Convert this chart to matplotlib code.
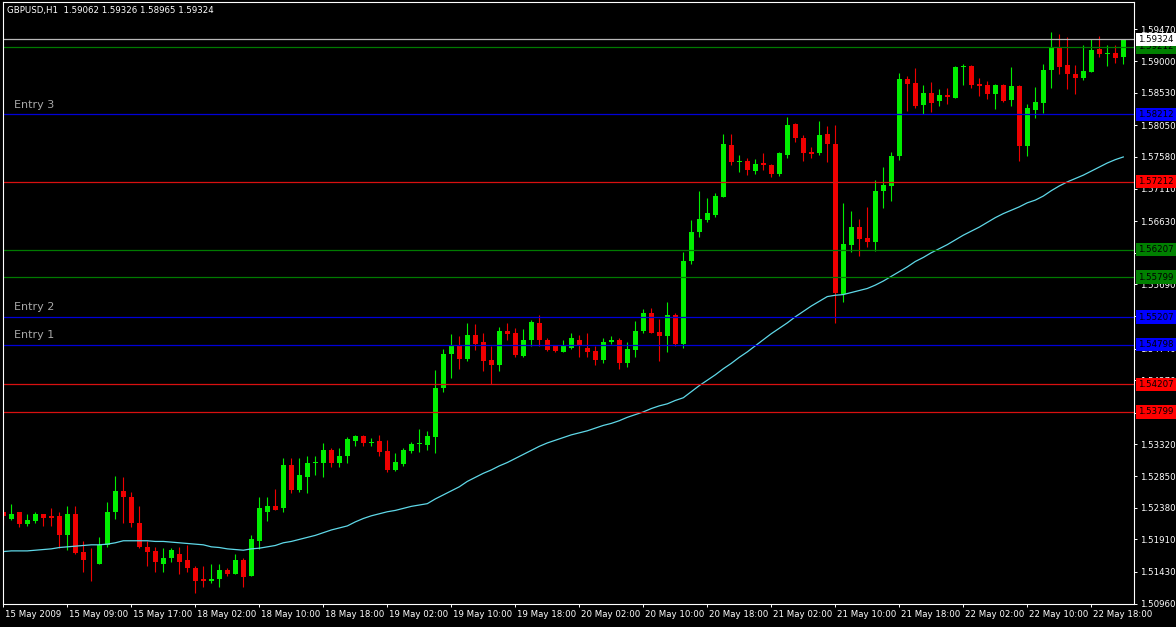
import numpy as np
import matplotlib.pyplot as plt
from matplotlib import transforms

# GBPUSD H1 candles, 15-22 May 2009
opens = [
    1.5231, 1.5222, 1.5231, 1.5214, 1.5219, 1.5228, 1.5225, 1.5225, 1.5197, 1.5229,
    1.5173, 1.5161, 1.5155, 1.5182, 1.5231, 1.5263, 1.5254, 1.5216, 1.5180, 1.5174,
    1.5155, 1.5163, 1.5170, 1.5160, 1.5149, 1.5132, 1.5129, 1.5132, 1.5146, 1.5140,
    1.5161, 1.5137, 1.5189, 1.5232, 1.5240, 1.5238, 1.5302, 1.5265, 1.5284, 1.5305,
    1.5305, 1.5324, 1.5305, 1.5314, 1.5337, 1.5345, 1.5334, 1.5337, 1.5322, 1.5294,
    1.5303, 1.5322, 1.5333, 1.5331, 1.5343, 1.5416, 1.5466, 1.5478, 1.5459, 1.5494,
    1.5483, 1.5457, 1.5449, 1.5500, 1.5497, 1.5463, 1.5486, 1.5512, 1.5487, 1.5477,
    1.5469, 1.5475, 1.5487, 1.5475, 1.5471, 1.5457, 1.5483, 1.5487, 1.5453, 1.5472,
    1.5500, 1.5526, 1.5499, 1.5493, 1.5524, 1.5480, 1.5604, 1.5646, 1.5665, 1.5672,
    1.5699, 1.5776, 1.5751, 1.5752, 1.5737, 1.5749, 1.5746, 1.5733, 1.5761, 1.5807,
    1.5786, 1.5766, 1.5764, 1.5792, 1.5777, 1.5555, 1.5628, 1.5654, 1.5638, 1.5632,
    1.5708, 1.5715, 1.5760, 1.5874, 1.5868, 1.5835, 1.5853, 1.5841, 1.5850, 1.5846,
    1.5891, 1.5893, 1.5866, 1.5865, 1.5851, 1.5865, 1.5843, 1.5863, 1.5774, 1.5828,
    1.5838, 1.5887, 1.5920, 1.5894, 1.5881, 1.5875, 1.5884, 1.5918, 1.5911, 1.5912,
    1.59062]
highs = [
    1.5234, 1.5243, 1.5232, 1.5228, 1.5231, 1.5229, 1.5237, 1.5232, 1.5240, 1.5241,
    1.5188, 1.5179, 1.5195, 1.5246, 1.5285, 1.5283, 1.5262, 1.5241, 1.5188, 1.5180,
    1.5179, 1.5179, 1.5180, 1.5183, 1.5151, 1.5152, 1.5155, 1.5155, 1.5149, 1.5169,
    1.5163, 1.5197, 1.5254, 1.5254, 1.5266, 1.5311, 1.5311, 1.5311, 1.5315, 1.5314,
    1.5334, 1.5327, 1.5327, 1.5343, 1.5346, 1.5346, 1.5342, 1.5346, 1.5339, 1.5319,
    1.5327, 1.5336, 1.5354, 1.5352, 1.5442, 1.5474, 1.5496, 1.5492, 1.5512, 1.5511,
    1.5497, 1.5477, 1.5506, 1.5512, 1.5505, 1.5503, 1.5517, 1.5524, 1.5490, 1.5477,
    1.5486, 1.5497, 1.5494, 1.5497, 1.5477, 1.5490, 1.5493, 1.5489, 1.5484, 1.5515,
    1.5533, 1.5534, 1.5518, 1.5543, 1.5527, 1.5617, 1.5665, 1.5708, 1.5697, 1.5705,
    1.5792, 1.5792, 1.5761, 1.5756, 1.5755, 1.5764, 1.5748, 1.5766, 1.5817, 1.5808,
    1.5791, 1.5773, 1.5811, 1.5804, 1.5806, 1.5690, 1.5678, 1.5666, 1.5684, 1.5724,
    1.5743, 1.5766, 1.5883, 1.5878, 1.5890, 1.5865, 1.5869, 1.5859, 1.5860, 1.5893,
    1.5896, 1.5894, 1.5875, 1.5871, 1.5866, 1.5866, 1.5891, 1.5865, 1.5837, 1.5862,
    1.5896, 1.5943, 1.5940, 1.5936, 1.5894, 1.5924, 1.5933, 1.5937, 1.5924, 1.5924,
    1.59326]
lows = [
    1.5213, 1.5220, 1.5209, 1.5211, 1.5216, 1.5211, 1.5211, 1.5179, 1.5176, 1.5170,
    1.5142, 1.5129, 1.5155, 1.5180, 1.5222, 1.5216, 1.5210, 1.5179, 1.5151, 1.5142,
    1.5142, 1.5157, 1.5139, 1.5142, 1.5112, 1.5121, 1.5127, 1.5121, 1.5137, 1.5139,
    1.5121, 1.5137, 1.5177, 1.5219, 1.5234, 1.5231, 1.5260, 1.5262, 1.5260, 1.5286,
    1.5283, 1.5299, 1.5299, 1.5305, 1.5330, 1.5330, 1.5330, 1.5315, 1.5291, 1.5293,
    1.5300, 1.5319, 1.5321, 1.5324, 1.5319, 1.5409, 1.5431, 1.5443, 1.5455, 1.5472,
    1.5440, 1.5422, 1.5441, 1.5487, 1.5462, 1.5462, 1.5477, 1.5477, 1.5471, 1.5469,
    1.5469, 1.5474, 1.5462, 1.5462, 1.5449, 1.5452, 1.5480, 1.5444, 1.5447, 1.5462,
    1.5497, 1.5497, 1.5456, 1.5469, 1.5477, 1.5475, 1.5600, 1.5640, 1.5662, 1.5669,
    1.5699, 1.5746, 1.5736, 1.5731, 1.5733, 1.5739, 1.5729, 1.5730, 1.5756, 1.5780,
    1.5752, 1.5757, 1.5761, 1.5751, 1.5512, 1.5543, 1.5617, 1.5611, 1.5625, 1.5619,
    1.5683, 1.5693, 1.5754, 1.5826, 1.5831, 1.5822, 1.5825, 1.5834, 1.5837, 1.5846,
    1.5865, 1.5860, 1.5849, 1.5844, 1.5829, 1.5839, 1.5834, 1.5752, 1.5760, 1.5816,
    1.5823, 1.5860, 1.5881, 1.5859, 1.5851, 1.5872, 1.5884, 1.5906, 1.5893, 1.5897,
    1.58965]
closes = [
    1.5225, 1.5229, 1.5214, 1.5220, 1.5228, 1.5223, 1.5223, 1.5197, 1.5228, 1.5171,
    1.5160, 1.5160, 1.5182, 1.5232, 1.5263, 1.5254, 1.5216, 1.5180, 1.5173, 1.5157,
    1.5164, 1.5176, 1.5158, 1.5148, 1.5130, 1.5129, 1.5133, 1.5146, 1.5139, 1.5160,
    1.5136, 1.5191, 1.5237, 1.5241, 1.5234, 1.5302, 1.5265, 1.5287, 1.5305, 1.5306,
    1.5324, 1.5305, 1.5315, 1.5340, 1.5345, 1.5334, 1.5336, 1.5321, 1.5294, 1.5306,
    1.5324, 1.5333, 1.5334, 1.5345, 1.5416, 1.5466, 1.5478, 1.5459, 1.5494, 1.5481,
    1.5456, 1.5449, 1.5500, 1.5496, 1.5465, 1.5487, 1.5514, 1.5486, 1.5472, 1.5471,
    1.5477, 1.5490, 1.5477, 1.5469, 1.5457, 1.5484, 1.5486, 1.5453, 1.5474, 1.5500,
    1.5526, 1.5497, 1.5492, 1.5523, 1.5481, 1.5604, 1.5647, 1.5666, 1.5675, 1.5700,
    1.5777, 1.5751, 1.5752, 1.5739, 1.5748, 1.5746, 1.5733, 1.5764, 1.5806, 1.5786,
    1.5764, 1.5763, 1.5791, 1.5777, 1.5557, 1.5629, 1.5654, 1.5637, 1.5632, 1.5708,
    1.5717, 1.5760, 1.5874, 1.5866, 1.5834, 1.5853, 1.5838, 1.5850, 1.5847, 1.5891,
    1.5893, 1.5865, 1.5863, 1.5851, 1.5865, 1.5841, 1.5863, 1.5774, 1.5831, 1.5840,
    1.5887, 1.5920, 1.5891, 1.5881, 1.5875, 1.5886, 1.5917, 1.5911, 1.5912, 1.5905,
    1.59324]

# moving average as drawn on the chart
ma = [
    1.5173, 1.5174, 1.5174, 1.5174, 1.5175, 1.5176, 1.5177, 1.5179, 1.5180, 1.5181,
    1.5182, 1.5183, 1.5183, 1.5184, 1.5186, 1.5189, 1.5189, 1.5189, 1.5189, 1.5188,
    1.5188, 1.5187, 1.5186, 1.5185, 1.5184, 1.5183, 1.5180, 1.5179, 1.5177, 1.5176,
    1.5175, 1.5177, 1.5178, 1.5180, 1.5182, 1.5186, 1.5188, 1.5191, 1.5194, 1.5197,
    1.5201, 1.5205, 1.5208, 1.5211, 1.5217, 1.5222, 1.5226, 1.5229, 1.5232, 1.5234,
    1.5237, 1.5240, 1.5242, 1.5244, 1.5251, 1.5257, 1.5263, 1.5269, 1.5277, 1.5283,
    1.5289, 1.5294, 1.5300, 1.5305, 1.5311, 1.5317, 1.5323, 1.5329, 1.5334, 1.5338,
    1.5342, 1.5346, 1.5349, 1.5352, 1.5356, 1.5360, 1.5363, 1.5367, 1.5372, 1.5376,
    1.5380, 1.5385, 1.5389, 1.5392, 1.5397, 1.5401, 1.5410, 1.5419, 1.5427, 1.5435,
    1.5444, 1.5452, 1.5461, 1.5469, 1.5478, 1.5487, 1.5496, 1.5504, 1.5512, 1.5521,
    1.5529, 1.5537, 1.5544, 1.5551, 1.5553, 1.5554, 1.5557, 1.5560, 1.5563, 1.5568,
    1.5574, 1.5581, 1.5588, 1.5595, 1.5603, 1.5609, 1.5616, 1.5622, 1.5628, 1.5635,
    1.5642, 1.5648, 1.5654, 1.5661, 1.5668, 1.5674, 1.5679, 1.5684, 1.5690, 1.5694,
    1.5700, 1.5708, 1.5715, 1.5721, 1.5726, 1.5731, 1.5737, 1.5743, 1.5749, 1.5754,
    1.5758]

# horizontal levels
level_prices = [1.59212, 1.58212, 1.57212, 1.56207, 1.55799, 1.55207, 1.54798, 1.54207, 1.53799]
level_kinds = ['green', 'blue', 'red', 'green', 'green', 'blue', 'blue', 'red', 'red']
entry_names = ['Entry 3', 'Entry 2', 'Entry 1']
entry_prices = [1.58212, 1.55207, 1.54798]

y_ticks = [1.50960, 1.51430, 1.51910, 1.52380, 1.52850, 1.53320, 1.53790, 1.54270,
           1.54740, 1.55220, 1.55690, 1.56160, 1.56630, 1.57110, 1.57580, 1.58050,
           1.58530, 1.59000, 1.59470]
x_tick_bars = [0, 8, 16, 24, 32, 40, 48, 56, 64, 72, 80, 88, 96, 104, 112, 120, 128, 136]
x_tick_labels = ['15 May 2009', '15 May 09:00', '15 May 17:00', '18 May 02:00', '18 May 10:00',
                 '18 May 18:00', '19 May 02:00', '19 May 10:00', '19 May 18:00', '20 May 02:00',
                 '20 May 10:00', '20 May 18:00', '21 May 02:00', '21 May 10:00', '21 May 18:00',
                 '22 May 02:00', '22 May 10:00', '22 May 18:00']

line_colors = {'green': '#007a00', 'blue': '#0000d8', 'red': '#d81010'}
box_colors = {'green': '#008000', 'blue': '#0000ff', 'red': '#ff0000'}

plt.rcParams['font.family'] = 'DejaVu Sans'
fs = 6.2

o = np.array(opens)
h = np.array(highs)
l = np.array(lows)
c = np.array(closes)
x = np.arange(len(c))

fig = plt.figure(figsize=(11.76, 6.27), dpi=100, facecolor='black')
ax = fig.add_axes([3 / 1176, 23.5 / 627, 1131 / 1176, 601.5 / 627])
ax.set_facecolor('black')

# candles
cols = np.where(c >= o, '#00ee00', '#ee0000')
ax.vlines(x, l, h, colors=cols, lw=0.8, zorder=2)
body = np.maximum(np.abs(c - o), 0.00009)
ax.bar(x, body, bottom=np.minimum(o, c), width=0.62, color=cols, lw=0, zorder=2)

# moving average
ax.plot(x, ma, color='#5fd8e8', lw=0.9, zorder=2.2)

# levels
for p, k in zip(level_prices, level_kinds):
    ax.axhline(p, color=line_colors[k], lw=0.9, zorder=2.4)
    ax.annotate(f'{p:.5f}', xy=(1, p), xycoords=('axes fraction', 'data'),
                xytext=(3, 0), textcoords='offset points', ha='left', va='center',
                fontsize=fs, color='black', alpha=1, annotation_clip=False, zorder=5,
                bbox=dict(boxstyle='square,pad=0.25', fc=box_colors[k], ec='none'))

# current price
ax.axhline(c[-1], color='#b8b8b8', lw=0.9, zorder=2.4)
ax.annotate(f'{c[-1]:.5f}', xy=(1, c[-1]), xycoords=('axes fraction', 'data'),
            xytext=(3, 0), textcoords='offset points', ha='left', va='center',
            fontsize=fs, color='black', annotation_clip=False, zorder=6,
            bbox=dict(boxstyle='square,pad=0.25', fc='white', ec='none'))

for name, p in zip(entry_names, entry_prices):
    ax.annotate(name, xy=(11 / 1131, p), xycoords=('axes fraction', 'data'),
                xytext=(0, 7), textcoords='offset points', ha='left', va='center',
                fontsize=8, color='#a8a8a8', zorder=6)

title = f'GBPUSD,H1  {o[-1]:.5f} {h[-1]:.5f} {l[-1]:.5f} {c[-1]:.5f}'
ax.text(4 / 1131, 1 - 8 / 601.5, title, transform=ax.transAxes, ha='left', va='center',
        fontsize=fs, color='white', zorder=6)

ax.set_xlim(-0.04, 141.34)
ax.set_ylim(1.50967, 1.59877)

ax.yaxis.tick_right()
ax.set_yticks(y_ticks)
ax.set_yticklabels([f'{v:.5f}' for v in y_ticks])
ax.set_xticks(x_tick_bars)
ax.set_xticklabels(x_tick_labels, ha='left')
ax.tick_params(axis='y', colors='white', length=2.5, width=0.7, pad=1.5, labelsize=fs)
ax.tick_params(axis='x', colors='white', length=2.5, width=0.7, pad=2, labelsize=fs)
shift = transforms.ScaledTranslation(1.5 / 72, 0, fig.dpi_scale_trans)
for lab in ax.get_xticklabels():
    lab.set_transform(lab.get_transform() + shift)

for s in ax.spines.values():
    s.set_color('white')
    s.set_linewidth(0.8)

fig.savefig('out.png', dpi=100, facecolor='black')
